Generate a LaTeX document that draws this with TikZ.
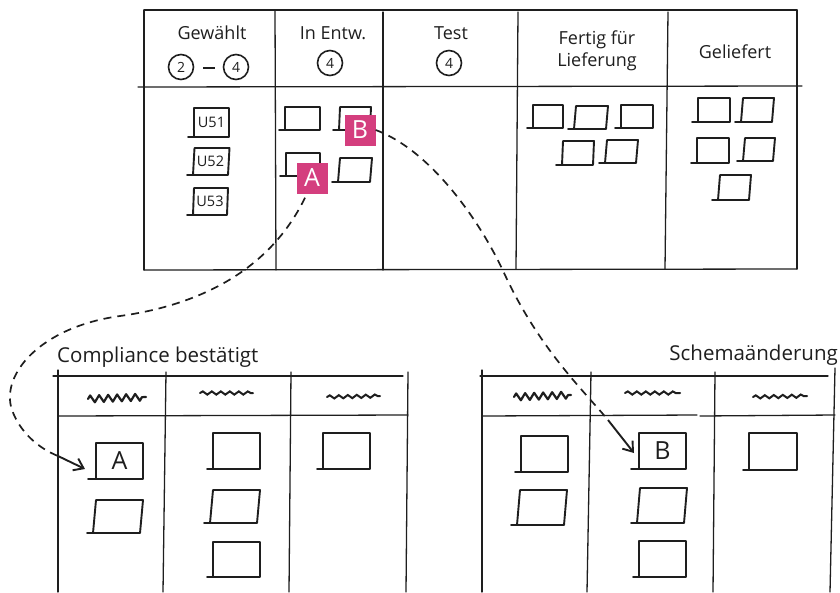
\documentclass[tikz,border=0pt]{standalone}
\usepackage{fontspec}
\setmainfont{Open Sans}
\usetikzlibrary{fit,decorations.pathmorphing,arrows.meta}

\definecolor{ink}{RGB}{30,30,30}
\definecolor{tagpink}{RGB}{212,62,126}

\tikzset{
  board/.style={draw=ink, line width=1.3pt, line cap=round},
  cardline/.style={draw=ink, line width=1.9pt, line cap=round, line join=round},
  cardbox/.style={inner sep=0pt, outer sep=0pt, draw=none},
  htext/.style={text=ink, font=\fontsize{18}{22}\selectfont, align=center, inner sep=0pt},
  ctext/.style={text=ink, font=\fontsize{14.5}{16}\selectfont, inner sep=0pt},
  bigletter/.style={text=ink, font=\fontsize{25}{27}\selectfont, inner sep=0pt},
  wip/.style={draw=ink, circle, line width=1.6pt, minimum size=25pt, inner sep=0pt,
    text=ink, font=\fontsize{14}{16}\selectfont},
  tag/.style={fill=tagpink, text=white, minimum width=31pt, minimum height=31pt,
    inner sep=0pt, font=\fontsize{25}{27}\selectfont},
  title/.style={text=ink, font=\fontsize{20.5}{23}\selectfont, inner sep=0pt},
  dashline/.style={draw=ink, line width=1.7pt, dash pattern=on 8pt off 6pt},
  arrowline/.style={draw=ink, line width=1.9pt, -{Straight Barb[length=9pt,width=13pt,line width=1.9pt]}},
  scrawl/.style={draw=ink, line width=2pt, line cap=round,
    decorate, decoration={snake, segment length=9pt, amplitude=1.6pt}},
  scrawlz/.style={draw=ink, line width=2.2pt, line cap=round, line join=round,
    decorate, decoration={zigzag, segment length=9pt, amplitude=3.5pt}},
}

% card: name, x1, y1, x2, y2, top slant, text
\newcommand\card[7]{%
  \node[cardbox, fit={(#2,#3) (#4,#5)}] (#1) {};
  \draw[cardline] ([xshift=#6pt]#1.north west) -- ([xshift=#6pt]#1.north east)
     -- (#1.south east) -- (#1.south west) -- cycle;
  \draw[cardline] (#1.south west) -- ++(-6,0);
  \node[ctext] at (#1) {#7};
}

\begin{document}
\begin{tikzpicture}[x=1pt, y=-1pt]
\useasboundingbox (0,0) rectangle (840,592);

% ---------- main board ----------
\draw[board] (144,10) -- (797,10);
\draw[board] (144,270) -- (797,269);
\draw[board] (144,10) -- (144,270);
\draw[board] (797,10) -- (797,269);
\draw[board] (138,87) -- (802,86);
\draw[board] (275,10) -- (276,270);
\draw[board] (383,12) -- (383,270);
\draw[board] (518,12) -- (516,269);
\draw[board] (668,12) -- (665,269);

% column headers
\node[htext] (hGew) at (212,33) {Gewählt};
\node[wip] (wipA) at (181,67) {2};
\node[wip] (wipB) at (236,67) {4};
\draw[ink, line width=1.8pt] (203,68) -- (215,68);
\node[htext] (hDev) at (333,33) {In Entw.};
\node[wip] (wipC) at (330,63) {4};
\node[htext] (hTest) at (451,33) {Test};
\node[wip] (wipD) at (449,63) {4};
\node[htext] (hReady) at (597,51) {Fertig für\\Lieferung};
\node[htext] (hDone) at (735,52) {Geliefert};

% selected
\card{u51}{194}{108}{229}{137}{0}{U51}
\card{u52}{193}{148}{228}{175}{1.5}{U52}
\card{u53}{193}{188}{227}{215}{1}{U53}

% in development
\card{d1}{285}{107}{320}{130}{0}{}
\card{d2}{339}{107}{370}{130}{1}{}
\card{d3}{286}{153}{320}{176}{0}{}
\card{d4}{338}{158}{370}{182}{2}{}
\node[tag] (tagB) at (360,130) {B};
\node[tag] (tagA) at (312,178) {A};

% ready for delivery
\card{f1}{533}{105}{563}{128}{0}{}
\card{f2}{574}{106}{606}{129}{2}{}
\card{f3}{621}{105}{653}{128}{0}{}
\card{f4}{562}{141}{593}{165}{1}{}
\card{f5}{605}{140}{636}{163}{2}{}

% delivered
\card{g1}{698}{98}{730}{122}{0}{}
\card{g2}{741}{98}{772}{122}{2}{}
\card{g3}{697}{138}{729}{163}{0}{}
\card{g4}{743}{138}{773}{161}{2}{}
\card{g5}{718}{175}{749}{200}{2}{}

% ---------- compliance board ----------
\node[title, anchor=west] (tCompl) at (57,357) {Compliance bestätigt};
\draw[board] (53,376) -- (403,376);
\draw[board] (58,416) -- (408,415);
\draw[board] (58,370) -- (58,592);
\draw[board] (166,372) -- (163,592);
\draw[board] (291,372) -- (289,592);
\draw[board] (408,372) -- (406,592);
\path[scrawlz] (88,399) -- (146,397);
\path[scrawl] (200,393) -- (253,393);
\path[scrawl] (327,397) -- (380,396);

\node[cardbox, fit={(96,443) (143,479)}] (cA) {};
\draw[cardline] (cA.north west) rectangle (cA.south east);
\draw[cardline] (cA.south west) -- ++(-8,0);
\node[bigletter] at (cA) {A};
\card{c2}{93}{500}{140}{533}{3}{}
\card{c3}{213}{433}{260}{469}{0}{}
\card{c4}{210}{490}{257}{523}{3}{}
\card{c5}{213}{542}{260}{577}{0}{}
\card{c6}{323}{433}{370}{469}{0}{}

% ---------- schema change board ----------
\node[title, anchor=east] (tSchema) at (838,355) {Schemaänderung};
\draw[board] (480,376) -- (828,376);
\draw[board] (482,416) -- (697,415);
\draw[board] (700,416) -- (835,415);
\draw[board] (482,370) -- (482,592);
\draw[board] (591,372) -- (587,592);
\draw[board] (715,372) -- (713,592);
\draw[board] (835,368) -- (830,592);
\path[scrawlz] (514,397) -- (571,395);
\path[scrawl] (625,393) -- (680,393);
\path[scrawl] (753,397) -- (807,396);

\card{s1}{521}{436}{568}{472}{0}{}
\card{s2}{517}{490}{564}{525}{3}{}
\node[cardbox, fit={(639,433) (686,469)}] (cB) {};
\draw[cardline] (cB.north west) rectangle (cB.south east);
\draw[cardline] (cB.south west) -- ++(-8,0);
\node[bigletter] at (cB) {B};
\card{s4}{637}{488}{684}{523}{3}{}
\card{s5}{639}{541}{686}{577}{0}{}
\card{s6}{749}{433}{797}{470}{0}{}

% ---------- movement of the tagged items ----------
\coordinate (aEnd) at (58,456);
\draw[dashline] ([xshift=-7pt,yshift=-4pt]tagA.south) .. controls (270,270) and (200,305) .. (120,316)
   .. controls (40,327) and (0,375) .. (12,410) .. controls (20,432) and (38,448) .. (aEnd);
\draw[arrowline] (aEnd) -- ([shift={(-11,-10)}]cA.south west);

\coordinate (bEnd) at (608,420);
\draw[dashline] (tagB.east) .. controls (430,150) and (480,220) .. (505,275)
   .. controls (540,350) and (585,392) .. (bEnd);
\draw[arrowline] (bEnd) -- ([shift={(-5,-16)}]cB.south west);
\end{tikzpicture}
\end{document}
